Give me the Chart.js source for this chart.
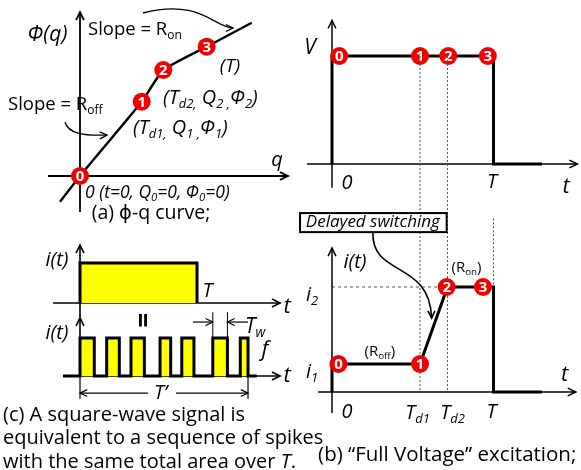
<!DOCTYPE html>
<html>
<head>
<meta charset="utf-8">
<script src="https://cdn.jsdelivr.net/npm/chart.js@4.4.0/dist/chart.umd.min.js"></script>
<style>
  html, body { margin: 0; padding: 0; background: #fff; }
  #wrap { position: relative; width: 581px; height: 470px; overflow: hidden; }
  #wrap canvas { position: absolute; left: 0; top: 0; }
</style>
</head>
<body>
<div id="wrap">
  <canvas id="cA" width="581" height="470"></canvas>
  <canvas id="cV" width="581" height="470"></canvas>
  <canvas id="cI" width="581" height="470"></canvas>
  <canvas id="cC1" width="581" height="470"></canvas>
  <canvas id="cC2" width="581" height="470"></canvas>
</div>
<script>
const W = 581, H = 470;

// (a) phi-q curve
const qValues    = [-2.0, 0, 6.17, 8.33, 12.67, 17.17];
const phiValues  = [-2.57, 0, 7.43, 10.6, 12.93, 15.33];
const phiMarkQ   = [0, 6.17, 8.33, 12.67];
const phiMarkPhi = [0, 7.43, 10.6, 12.93];
const markNames  = ["0", "1", "2", "3"];

// (b) full voltage excitation (T = 10)
const TD1 = 5.45, TD2 = 7.15, T_END = 10;
const vTimes  = [0, 0, 10, 10, 13];
const vValues = [0, 1, 1, 0, 0];
const vMarkT  = [0.45, 5.45, 7.2, 9.65];
const vMarkV  = [1, 1, 1, 1];
const iTimes  = [0, 0, 5.45, 7.15, 10, 10, 13];
const iValues = [0, 1, 1, 3.75, 3.75, 0, 0];
const iMarkT  = [0.4, 5.45, 7.1, 9.35];
const iMarkV  = [1, 1, 3.75, 3.75];

// (c) square wave vs spikes
const sqTimes    = [0, 0, 10, 10];
const sqValues   = [0, 1, 1, 0];
const spikeStart = [0, 2.28, 4.36, 6.84, 8.7, 11.35, 13.7];
const spikeEnd   = [1.22, 3.36, 5.5, 7.75, 9.74, 12.6, 14.36];

const FONT = '"Open Sans", "DejaVu Sans", sans-serif';

// pixel origin + pixels per unit for each panel
const frameA  = { ox: 80,  oy: 176, sx: 10,    sy: 10 };
const frameV  = { ox: 332, oy: 164, sx: 16.15, sy: 108 };
const frameI  = { ox: 332, oy: 392, sx: 16.15, sy: 28 };
const frameC1 = { ox: 80,  oy: 303, sx: 11.7,  sy: 40 };
const frameC2 = { ox: 80,  oy: 376, sx: 11.7,  sy: 38 };

// tiny markup: *...* italic, _{..} subscript
function parse(s) {
  const out = [];
  let it = false, buf = "", i = 0;
  const push = (sub) => { if (buf) out.push({ t: buf, it, sub }); buf = ""; };
  while (i < s.length) {
    const c = s[i];
    if (c === "*") { push(false); it = !it; i++; }
    else if (c === "_" && s[i + 1] === "{") {
      push(false);
      const j = s.indexOf("}", i);
      buf = s.slice(i + 2, j);
      push(true);
      i = j + 1;
    } else { buf += c; i++; }
  }
  push(false);
  return out;
}

function fontOf(p, size, bold) {
  const sz = p.sub ? size * 0.65 : size;
  return (p.it ? "italic " : "") + (bold ? "bold " : "") + sz + "px " + FONT;
}

function drawRich(ctx, x, y, text, size, align, bold) {
  const parts = parse(text);
  let w = 0;
  parts.forEach(p => { ctx.font = fontOf(p, size, bold); p.w = ctx.measureText(p.t).width; w += p.w; });
  let cx = align === "center" ? x - w / 2 : align === "right" ? x - w : x;
  ctx.textAlign = "left";
  ctx.textBaseline = "middle";
  parts.forEach(p => {
    ctx.font = fontOf(p, size, bold);
    ctx.fillText(p.t, cx, y + (p.sub ? size * 0.3 : 0));
    cx += p.w;
  });
  return w;
}

function head(ctx, x1, y1, x2, y2, len) {
  const a = Math.atan2(y2 - y1, x2 - x1);
  ctx.beginPath();
  ctx.moveTo(x2 - len * Math.cos(a - 0.45), y2 - len * Math.sin(a - 0.45));
  ctx.lineTo(x2, y2);
  ctx.lineTo(x2 - len * Math.cos(a + 0.45), y2 - len * Math.sin(a + 0.45));
  ctx.stroke();
}

function decoPlugin(deco) {
  return {
    id: "deco",
    beforeDatasetsDraw(chart) {
      const ctx = chart.ctx, sx = chart.scales.x, sy = chart.scales.y;
      const P = (p) => [sx.getPixelForValue(p[0]), sy.getPixelForValue(p[1])];
      ctx.save();
      ctx.strokeStyle = "#000";
      ctx.lineCap = "butt";
      (deco.lines || []).forEach(l => {
        ctx.save();
        ctx.strokeStyle = l.color || "#000";
        ctx.lineWidth = l.w || 1;
        ctx.setLineDash(l.dash || []);
        ctx.beginPath();
        l.pts.forEach((p, k) => { const q = P(p); k ? ctx.lineTo(q[0], q[1]) : ctx.moveTo(q[0], q[1]); });
        ctx.stroke();
        ctx.restore();
      });
      (deco.arrows || []).forEach(a => {
        const f = P(a.from), t = P(a.to);
        ctx.lineWidth = a.w || 1.6;
        ctx.beginPath(); ctx.moveTo(f[0], f[1]); ctx.lineTo(t[0], t[1]); ctx.stroke();
        head(ctx, f[0], f[1], t[0], t[1], a.len || 9);
      });
      ctx.restore();
    },
    afterDatasetsDraw(chart) {
      const ctx = chart.ctx, sx = chart.scales.x, sy = chart.scales.y;
      const P = (p) => [sx.getPixelForValue(p[0]), sy.getPixelForValue(p[1])];
      ctx.save();
      ctx.strokeStyle = "#000";
      // marker numbers
      chart.data.datasets.forEach((ds, di) => {
        if (!ds.isMarker) return;
        chart.getDatasetMeta(di).data.forEach((pt, k) => {
          ctx.fillStyle = "#fff";
          ctx.font = "bold 15px " + FONT;
          ctx.textAlign = "center";
          ctx.textBaseline = "middle";
          ctx.fillText(markNames[k], pt.x, pt.y + 1);
        });
      });
      ctx.fillStyle = "#000";
      (deco.curves || []).forEach(c => {
        const p = c.p.map(P);
        ctx.lineWidth = c.w || 1.3;
        ctx.beginPath();
        ctx.moveTo(p[0][0], p[0][1]);
        ctx.bezierCurveTo(p[1][0], p[1][1], p[2][0], p[2][1], p[3][0], p[3][1]);
        ctx.stroke();
        head(ctx, p[2][0], p[2][1], p[3][0], p[3][1], c.len || 8);
      });
      (deco.boxes || []).forEach(b => {
        const a = P([b.x1, b.y1]), z = P([b.x2, b.y2]);
        ctx.fillStyle = "#fff";
        ctx.fillRect(a[0], a[1], z[0] - a[0], z[1] - a[1]);
        ctx.lineWidth = 2;
        ctx.strokeRect(a[0], a[1], z[0] - a[0], z[1] - a[1]);
        ctx.fillStyle = "#000";
      });
      (deco.labels || []).forEach(l => {
        const q = P(l.p);
        ctx.save();
        ctx.translate(q[0], q[1]);
        if (l.rot) ctx.rotate(l.rot);
        drawRich(ctx, 0, 0, l.t, l.size, l.align || "center", l.bold);
        ctx.restore();
      });
      ctx.restore();
    }
  };
}

function pts(xs, ys) { return xs.map((x, i) => ({ x, y: ys[i] })); }

function wave(xs, ys, extra) {
  return Object.assign({
    data: pts(xs, ys), borderColor: "#000", borderWidth: 3, pointRadius: 0,
    tension: 0, fill: false, order: 1, borderJoinStyle: "miter"
  }, extra || {});
}

function marks(xs, ys) {
  return {
    data: pts(xs, ys), showLine: false, pointRadius: 9, pointHoverRadius: 9,
    pointBackgroundColor: "#f20000", pointBorderColor: "#f20000", pointBorderWidth: 0,
    order: 0, isMarker: true
  };
}

function makeChart(id, fr, datasets, deco) {
  return new Chart(document.getElementById(id), {
    type: "line",
    data: { datasets },
    options: {
      responsive: false,
      animation: false,
      events: [],
      layout: { padding: 0, autoPadding: false }, // keep scales pinned to canvas edges
      plugins: { legend: { display: false }, tooltip: { enabled: false } },
      scales: {
        x: { type: "linear", display: false, min: -fr.ox / fr.sx, max: (W - fr.ox) / fr.sx },
        y: { type: "linear", display: false, min: (fr.oy - H) / fr.sy, max: fr.oy / fr.sy }
      }
    },
    plugins: [decoPlugin(deco)]
  });
}

// ---- (a) phi-q curve
makeChart("cA", frameA, [
  wave(qValues, phiValues, { borderWidth: 2.4, tension: 0.15 }),
  marks(phiMarkQ, phiMarkPhi)
], {
  arrows: [
    { from: [-3.2, 0], to: [20.8, 0], w: 1.8 },
    { from: [0, -3.6], to: [0, 16.4], w: 1.8 }
  ],
  curves: [
    { p: [[6.3, 16.3], [12, 17.8], [13.5, 14.8], [15.3, 14.8]] },
    { p: [[-1.5, 5.4], [-1.2, 4.2], [0.5, 4.0], [2.7, 4.1]] }
  ],
  labels: [
    { p: [-3.25, 14.1], t: "*Φ(q)*", size: 21 },
    { p: [0.8, 14.6], t: "Slope = R_{on}", size: 18.5, align: "left" },
    { p: [-7.2, 7.1], t: "Slope = R_{off}", size: 18.5, align: "left" },
    { p: [15, 10.9], t: "*(T)*", size: 19 },
    { p: [8.3, 7.8], t: "*(T_{d2,} Q_{2 ,}Φ_{2})*", size: 20, align: "left" },
    { p: [5.3, 4.8], t: "*(T_{d1,} Q_{1 ,}Φ_{1})*", size: 20, align: "left" },
    { p: [19.7, 1.6], t: "*q*", size: 20 },
    { p: [0.5, -1.7], t: "*0 (t=0, Q_{0}=0, Φ_{0}=0)*", size: 17.5, align: "left" },
    { p: [7.1, -3.75], t: "(a) ϕ-q curve;", size: 19.5 }
  ]
});

// ---- (b) top: V(t)
makeChart("cV", frameV, [
  wave(vTimes, vValues),
  marks(vMarkT, vMarkV)
], {
  arrows: [
    { from: [-1.54, 0], to: [15.2, 0], w: 1.5 },
    { from: [0, -0.22], to: [0, 1.33], w: 1.5 }
  ],
  labels: [
    { p: [-1.36, 1.07], t: "*V*", size: 21 },
    { p: [0.93, -0.18], t: "*0*", size: 20 },
    { p: [9.9, -0.17], t: "*T*", size: 20 },
    { p: [14.5, -0.21], t: "*t*", size: 22 }
  ]
});

// ---- (b) bottom: i(t)
makeChart("cI", frameI, [
  wave(iTimes, iValues),
  marks(iMarkT, iMarkV)
], {
  lines: [
    { pts: [[TD1, 12.0], [TD1, 0]], dash: [2, 2], color: "#555" },
    { pts: [[TD2, 12.0], [TD2, 0]], dash: [2, 2], color: "#555" },
    { pts: [[T_END, 6.2], [T_END, 3.75]], dash: [2, 2], color: "#555" },
    { pts: [[0, 3.75], [TD2, 3.75]], dash: [3, 3], color: "#555" }
  ],
  arrows: [
    { from: [-0.86, 0], to: [15.1, 0], w: 1.5 },
    { from: [0, -0.75], to: [0, 5.14], w: 1.5 }
  ],
  boxes: [{ x1: -1.98, y1: 6.39, x2: 7.1, y2: 5.71 }],
  curves: [
    { p: [[2.53, 5.68], [2.47, 4.1], [6.05, 4.71], [6.17, 2.64]], w: 1.6 }
  ],
  labels: [
    { p: [2.53, 6.05], t: "*Delayed switching*", size: 17 },
    { p: [1.42, 4.64], t: "*i(t)*", size: 20 },
    { p: [-1.23, 3.46], t: "*i_{2}*", size: 20 },
    { p: [-1.23, 0.71], t: "*i_{1}*", size: 20 },
    { p: [8.33, 4.43], t: "(R_{on})", size: 15 },
    { p: [2.96, 1.43], t: "(R_{off})", size: 15 },
    { p: [14.4, 0.61], t: "*t*", size: 22 },
    { p: [0.93, -0.71], t: "*0*", size: 20 },
    { p: [5.3, -0.75], t: "*T_{d1}*", size: 20 },
    { p: [7.47, -0.75], t: "*T_{d2}*", size: 20 },
    { p: [9.88, -0.71], t: "*T*", size: 20 },
    { p: [-0.86, -2.25], t: "(b) “Full Voltage” excitation;", size: 20.5, align: "left" }
  ]
});

// ---- (c) top: square wave
makeChart("cC1", frameC1, [
  wave(sqTimes, sqValues, { fill: "origin", backgroundColor: "#ffff00" })
], {
  arrows: [
    { from: [-2.3, 0], to: [17.1, 0], w: 1.6 },
    { from: [0, -0.35], to: [0, 1.45], w: 1.6 }
  ],
  labels: [
    { p: [-1.97, 1.08], t: "*i(t)*", size: 20 },
    { p: [10.9, 0.3], t: "*T*", size: 20 },
    { p: [17.7, -0.1], t: "*t*", size: 22 },
    { p: [5.13, -0.43], t: "=", size: 26, bold: true, rot: Math.PI / 2 }
  ]
});

// ---- (c) bottom: spikes
const spikeX = [-1.45], spikeY = [0];
spikeStart.forEach((s, k) => {
  spikeX.push(s, s, spikeEnd[k], spikeEnd[k]);
  spikeY.push(0, 1, 1, 0);
});
spikeX.push(15.1);
spikeY.push(0);

makeChart("cC2", frameC2, [
  wave(spikeX, spikeY, { fill: "origin", backgroundColor: "#ffff00" })
], {
  lines: [
    { pts: [[spikeStart[5], 1.68], [spikeStart[5], 1.0]], w: 1 },
    { pts: [[spikeEnd[5], 1.68], [spikeEnd[5], 1.0]], w: 1 },
    { pts: [[0, 0], [0, -0.6]], w: 1.2 },
    { pts: [[spikeEnd[6], 0], [spikeEnd[6], -0.6]], w: 1.2 }
  ],
  arrows: [
    { from: [-1.45, 0], to: [17.1, 0], w: 1.6 },
    { from: [0, 0], to: [0, 1.53], w: 1.6 },
    { from: [9.66, 1.42], to: [spikeStart[5], 1.42], w: 1.2, len: 8 },
    { from: [14.36, 1.42], to: [spikeEnd[5], 1.42], w: 1.2, len: 8 },
    { from: [5.8, -0.45], to: [0, -0.45], w: 1.2, len: 8 },
    { from: [8.2, -0.45], to: [spikeEnd[6], -0.45], w: 1.2, len: 8 }
  ],
  labels: [
    { p: [-1.97, 1.13], t: "*i(t)*", size: 20 },
    { p: [14.1, 1.29], t: "*T_{w}*", size: 21, align: "left" },
    { p: [15.8, 0.68], t: "*f*", size: 22 },
    { p: [17.7, 0], t: "*t*", size: 22 },
    { p: [6.9, -0.45], t: "*T’*", size: 20 },
    { p: [-6.58, -1.03], t: "(c) A square-wave signal is", size: 20, align: "left" },
    { p: [-6.58, -1.63], t: "equivalent to a sequence of spikes", size: 20, align: "left" },
    { p: [-6.58, -2.26], t: "with the same total area over *T*.", size: 20, align: "left" }
  ]
});
</script>
</body>
</html>
